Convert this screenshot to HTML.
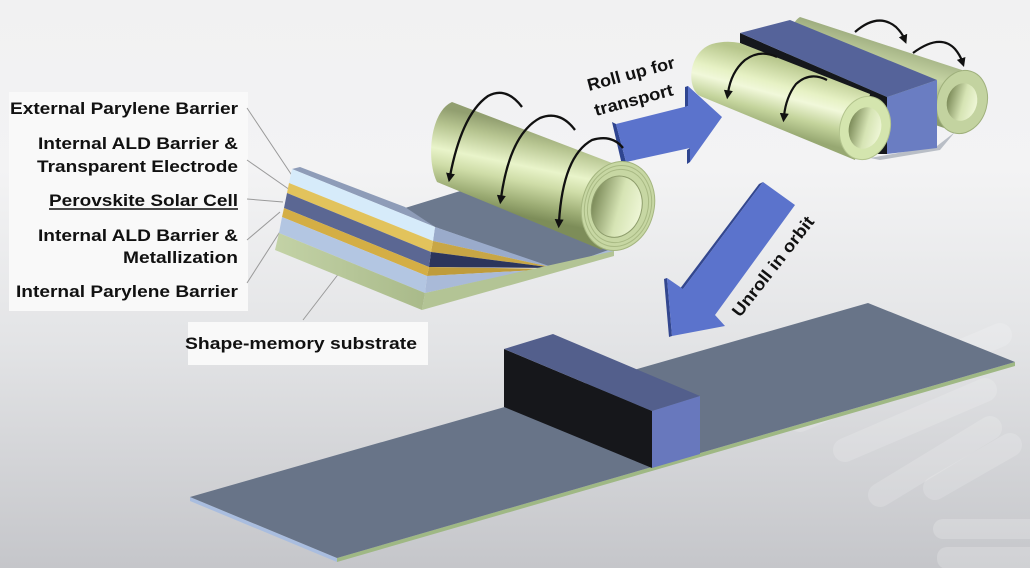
<!DOCTYPE html>
<html><head><meta charset="utf-8">
<style>
html,body{margin:0;padding:0;background:#eee;}
body{width:1030px;height:568px;overflow:hidden;}
svg{display:block}
text{font-family:"Liberation Sans",Arial,sans-serif;font-weight:bold;fill:#111;}
</style></head>
<body>
<svg width="1030" height="568" viewBox="0 0 1030 568" xmlns="http://www.w3.org/2000/svg">
<defs>
 <linearGradient id="bg" x1="0" y1="0" x2="0" y2="1">
  <stop offset="0" stop-color="#f1f1f2"/>
  <stop offset="0.3" stop-color="#f3f3f4"/>
  <stop offset="0.6" stop-color="#e3e4e6"/>
  <stop offset="1" stop-color="#c5c6ca"/>
 </linearGradient>
 <linearGradient id="bigRoll" gradientUnits="userSpaceOnUse" x1="530" y1="126" x2="512" y2="214">
  <stop offset="0" stop-color="#929f70"/>
  <stop offset="0.18" stop-color="#b6c490"/>
  <stop offset="0.45" stop-color="#e9f4ca"/>
  <stop offset="0.62" stop-color="#cfdda8"/>
  <stop offset="0.85" stop-color="#9dad75"/>
  <stop offset="1" stop-color="#7d8d59"/>
 </linearGradient>
 <linearGradient id="frontRoll" gradientUnits="userSpaceOnUse" x1="790" y1="62" x2="772" y2="130">
  <stop offset="0" stop-color="#b7c68c"/>
  <stop offset="0.35" stop-color="#e6f1c4"/>
  <stop offset="0.5" stop-color="#f1f8da"/>
  <stop offset="0.75" stop-color="#c4d49c"/>
  <stop offset="1" stop-color="#97a872"/>
 </linearGradient>
 <linearGradient id="backRoll" gradientUnits="userSpaceOnUse" x1="882" y1="40" x2="866" y2="100">
  <stop offset="0" stop-color="#9fae80"/>
  <stop offset="0.4" stop-color="#c6d4a4"/>
  <stop offset="1" stop-color="#8c9c6c"/>
 </linearGradient>
 <linearGradient id="hole" x1="0" y1="0" x2="1" y2="0">
  <stop offset="0" stop-color="#7c8b59"/>
  <stop offset="0.55" stop-color="#d6e4b4"/>
  <stop offset="1" stop-color="#eef6d6"/>
 </linearGradient>
 <linearGradient id="green" x1="0" y1="0" x2="1" y2="0">
  <stop offset="0" stop-color="#c3d2a6"/>
  <stop offset="1" stop-color="#a9ba8a"/>
 </linearGradient>
 <marker id="ah" viewBox="0 0 10 10" refX="3" refY="5" markerWidth="9" markerHeight="9" markerUnits="userSpaceOnUse" orient="auto">
  <path d="M0,0 L10,5 L0,10 z" fill="#111"/>
 </marker>
</defs>

<!-- background -->
<rect x="0" y="0" width="1030" height="568" fill="url(#bg)"/>
<g stroke="#ffffff" stroke-opacity="0.16" stroke-width="24" stroke-linecap="round" fill="none">
 <line x1="845" y1="450" x2="985" y2="390"/>
 <line x1="880" y1="495" x2="990" y2="428"/>
 <line x1="935" y1="488" x2="1010" y2="445"/>
 <line x1="800" y1="420" x2="1000" y2="335"/>
</g>
<rect x="933" y="519" width="110" height="20" rx="10" fill="#ffffff" fill-opacity="0.2"/>
<rect x="937" y="547" width="110" height="22" rx="10" fill="#ffffff" fill-opacity="0.2"/>

<!-- label boxes -->
<rect x="9" y="92" width="239" height="219" fill="#f9f9f9"/>
<rect x="188" y="322" width="240" height="43" fill="#f9f9f9"/>

<!-- leader lines -->
<g stroke="#9a9a9a" stroke-width="1">
 <line x1="247" y1="108" x2="293" y2="177"/>
 <line x1="247" y1="160" x2="290" y2="190"/>
 <line x1="247" y1="199" x2="283" y2="202"/>
 <line x1="247" y1="240" x2="280" y2="212"/>
 <line x1="247" y1="283" x2="283" y2="227"/>
 <line x1="303" y1="320" x2="343" y2="268"/>
</g>

<!-- labels -->
<text x="10" y="114" font-size="17" textLength="228" lengthAdjust="spacingAndGlyphs">External Parylene Barrier</text>
<text x="38" y="149" font-size="17" textLength="200" lengthAdjust="spacingAndGlyphs">Internal ALD Barrier &amp;</text>
<text x="37" y="172" font-size="17" textLength="201" lengthAdjust="spacingAndGlyphs">Transparent Electrode</text>
<text x="49" y="206" font-size="17" textLength="189" lengthAdjust="spacingAndGlyphs">Perovskite Solar Cell</text>
<line x1="49" y1="209" x2="238" y2="209" stroke="#111" stroke-width="1.5"/>
<text x="38" y="241" font-size="17" textLength="200" lengthAdjust="spacingAndGlyphs">Internal ALD Barrier &amp;</text>
<text x="123" y="263" font-size="17" textLength="115" lengthAdjust="spacingAndGlyphs">Metallization</text>
<text x="16" y="297" font-size="17" textLength="222" lengthAdjust="spacingAndGlyphs">Internal Parylene Barrier</text>
<text x="185" y="349" font-size="17" textLength="232" lengthAdjust="spacingAndGlyphs">Shape-memory substrate</text>

<!-- laminate sheet -->
<polygon points="405,208 470,188 614,244 614,249 555,269 435,227" fill="#6c798e"/>
<polygon points="292,169 300,167 405,207 435,227" fill="#8e9cb8"/>
<!-- wedge -->
<polygon points="435,227 555,268 433,241" fill="#9aabcb"/>
<polygon points="433,241 555,268 431,252" fill="#c8a645"/>
<polygon points="431,252 555,268 429,267" fill="#2c355c"/>
<polygon points="429,267 555,269 427,276" fill="#bf9c3c"/>
<polygon points="427,276 555,269 614,248 614,252 425,293" fill="#a9bad8"/>
<polygon points="425,293 614,251 614,256 422,310" fill="#b3c495"/>
<!-- front face stripes -->
<polygon points="292,169 435,227 433,241 289,183" fill="#d6ebfa"/>
<polygon points="289,183 433,241 431,252 287,193" fill="#e2c35c"/>
<polygon points="287,193 431,252 429,267 284,208" fill="#5b6793"/>
<polygon points="284,208 429,267 427,276 282,217" fill="#d4ae45"/>
<polygon points="282,217 427,276 425,293 279,233" fill="#b3c6e2"/>
<polygon points="279,233 425,293 422,310 275,250" fill="url(#green)"/>

<!-- roll up arrow -->
<polygon points="612,122 616,124 626,162 622,165" fill="#2f4590"/>
<polygon points="685,87 688,86 688,106 685,107" fill="#2f4590"/>
<polygon points="616,124 688,106 688,86 722,117 690,162 690,148 626,162" fill="#5b73cc"/>
<polygon points="687,150 690,148 690,162 687,164" fill="#2f4590"/>

<!-- big roll -->
<path d="M452,102 L612,163 L602,250 L437,182 C426,160 430,112 452,102 Z" fill="url(#bigRoll)"/>
<g transform="translate(618,206) rotate(15)">
 <ellipse cx="0" cy="0" rx="36" ry="45" fill="#c7d7a3" stroke="#a4b57f" stroke-width="1"/>
 <ellipse cx="0" cy="0" rx="33" ry="41" fill="none" stroke="#a9ba84" stroke-width="1"/>
 <ellipse cx="0" cy="0" rx="30" ry="37" fill="none" stroke="#a9ba84" stroke-width="1"/>
 <ellipse cx="-1" cy="1" rx="25" ry="31" fill="url(#hole)" stroke="#8e9d6c" stroke-width="1"/>
</g>
<g stroke="#111" stroke-width="2.3" fill="none" marker-end="url(#ah)">
 <path d="M522,107 Q506,86 488,96 Q462,114 450,176"/>
 <path d="M575,130 Q560,110 540,118 Q510,134 501,198"/>
 <path d="M623,148 Q612,134 592,140 Q563,156 559,222"/>
</g>

<!-- upper right: back roll -->
<path d="M800,17 L962,70 L962,134 L790,76 C784,52 788,24 800,17 Z" fill="url(#backRoll)"/>
<g transform="translate(962,102) rotate(15)">
 <ellipse cx="0" cy="0" rx="25" ry="32" fill="#c3d3a0" stroke="#9fb07c" stroke-width="1"/>
 <ellipse cx="0" cy="0" rx="15" ry="19" fill="url(#hole)"/>
</g>
<!-- box -->
<polygon points="870,158 937,146 955,132 940,150 880,160" fill="#b9bec6"/>
<polygon points="740,33 887,97 887,154 866,154 870,96 740,43" fill="#15171c"/>
<polygon points="740,33 790,20 937,80 887,97" fill="#55639a"/>
<polygon points="887,97 937,80 937,148 887,154" fill="#6a7dc2"/>
<!-- front roll -->
<path d="M740,43 L870,94 L855,160 L700,96 C686,88 688,52 712,44 Q726,40 740,43 Z" fill="url(#frontRoll)"/>
<g transform="translate(865,128) rotate(15)">
 <ellipse cx="0" cy="0" rx="25" ry="32" fill="#d4e5ae" stroke="#b3c48e" stroke-width="1"/>
 <ellipse cx="0" cy="0" rx="16" ry="21" fill="url(#hole)"/>
</g>
<g stroke="#111" stroke-width="2.2" fill="none" marker-end="url(#ah)">
 <path d="M777,57 Q760,49 745,60 Q731,72 728,93"/>
 <path d="M827,80 Q810,71 796,84 Q786,97 784,116"/>
 <path d="M855,32 Q878,12 896,27 Q902,33 904,38"/>
 <path d="M913,53 Q940,33 955,49 Q960,55 962,61"/>
</g>

<!-- transport text -->
<text transform="translate(589,91) rotate(-15)" font-size="17" textLength="90" lengthAdjust="spacingAndGlyphs">Roll up for</text>
<text transform="translate(596,116) rotate(-15)" font-size="17" textLength="81" lengthAdjust="spacingAndGlyphs">transport</text>

<!-- unroll arrow -->
<polygon points="759,184 763,182 683,289 679,290" fill="#33478f"/>
<polygon points="664,279 667,278 672,336 669,337" fill="#33478f"/>
<polygon points="763,182 795,205 715,315 725,326 672,336 667,278 683,289" fill="#5b73cc"/>
<text transform="translate(740,318) rotate(-52)" font-size="17" textLength="122" lengthAdjust="spacingAndGlyphs">Unroll in orbit</text>

<!-- bottom slab -->
<polygon points="190,497 337,558 337,562 190,501" fill="#a9bddf"/>
<polygon points="337,558 1015,362 1015,366 337,562" fill="#9fb884"/>
<polygon points="190,497 868,303 1015,362 337,558" fill="#687488"/>
<!-- box on slab -->
<polygon points="504,349 652,411 652,468 504,407" fill="#16171b"/>
<polygon points="504,349 553,334 700,396 652,411" fill="#535f8c"/>
<polygon points="652,411 700,396 700,454 652,468" fill="#6878bd"/>
</svg>
</body></html>
